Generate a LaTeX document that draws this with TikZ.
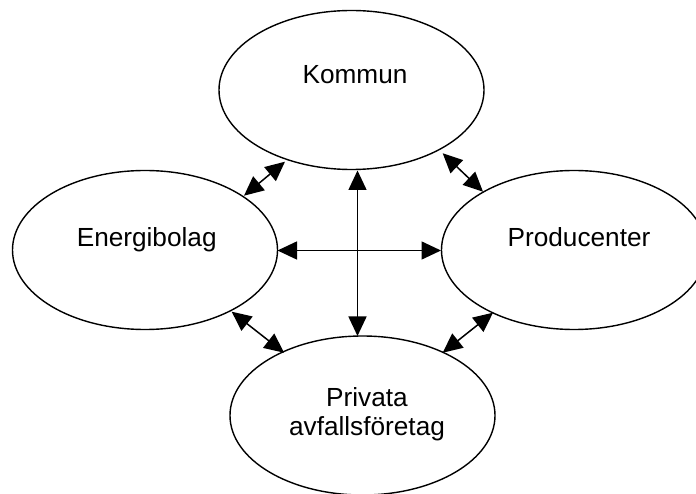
\documentclass[tikz,border=0pt]{standalone}
\usepackage{fontspec}
\setmainfont{Liberation Sans}
\usetikzlibrary{shapes.geometric,arrows.meta}
\begin{document}
\begin{tikzpicture}[x=1pt,y=-1pt,
  blob/.style={draw=black,line width=1.4pt,ellipse,inner sep=0pt,minimum width=265pt,minimum height=159pt},
  lbl/.style={anchor=base,font=\fontsize{26.2}{29}\selectfont,inner sep=0pt},
  link/.style={line width=1.5pt,{Triangle[length=19.5pt,width=18pt]}-{Triangle[length=19.5pt,width=18pt]}}]
\useasboundingbox (0,0) rectangle (696,494);
\clip (0,0) rectangle (696,494);
\fill[white] (0,0) rectangle (696,494);
% ellipses
\node[blob] (kom) at (351.5,90) {};
\node[blob] (ene) at (145,250) {};
\node[blob] (pro) at (574,250) {};
\node[blob] (pri) at (362.5,415.5) {};
% labels
\node[lbl] (komT) at (355,83.3) {Kommun};
\node[lbl] (eneT) at (146.7,246.7) {Energibolag};
\node[lbl] (proT) at (579,246.7) {Producenter};
\node[lbl] (priT1) at (367,406.7) {Privata};
\node[lbl] (priT2) at (367,435) {avfallsföretag};
% arrow ends
\coordinate (v1) at (357.5,170.5);
\coordinate (v2) at (357.5,336);
\coordinate (h1) at (277.5,250.5);
\coordinate (h2) at (441,250.5);
\coordinate (tl1) at (285,161.7);
\coordinate (tl2) at (244,195.7);
\coordinate (tr1) at (442.7,153.3);
\coordinate (tr2) at (483,191.7);
\coordinate (bl1) at (231.7,311.7);
\coordinate (bl2) at (284,352.7);
\coordinate (br1) at (493,312.7);
\coordinate (br2) at (442.7,352.7);
% connectors
\draw[link] (v1) -- (v2);
\draw[link] (h1) -- (h2);
\draw[link] (tl1) -- (tl2);
\draw[link] (tr1) -- (tr2);
\draw[link] (bl1) -- (bl2);
\draw[link] (br1) -- (br2);
\end{tikzpicture}
\end{document}
